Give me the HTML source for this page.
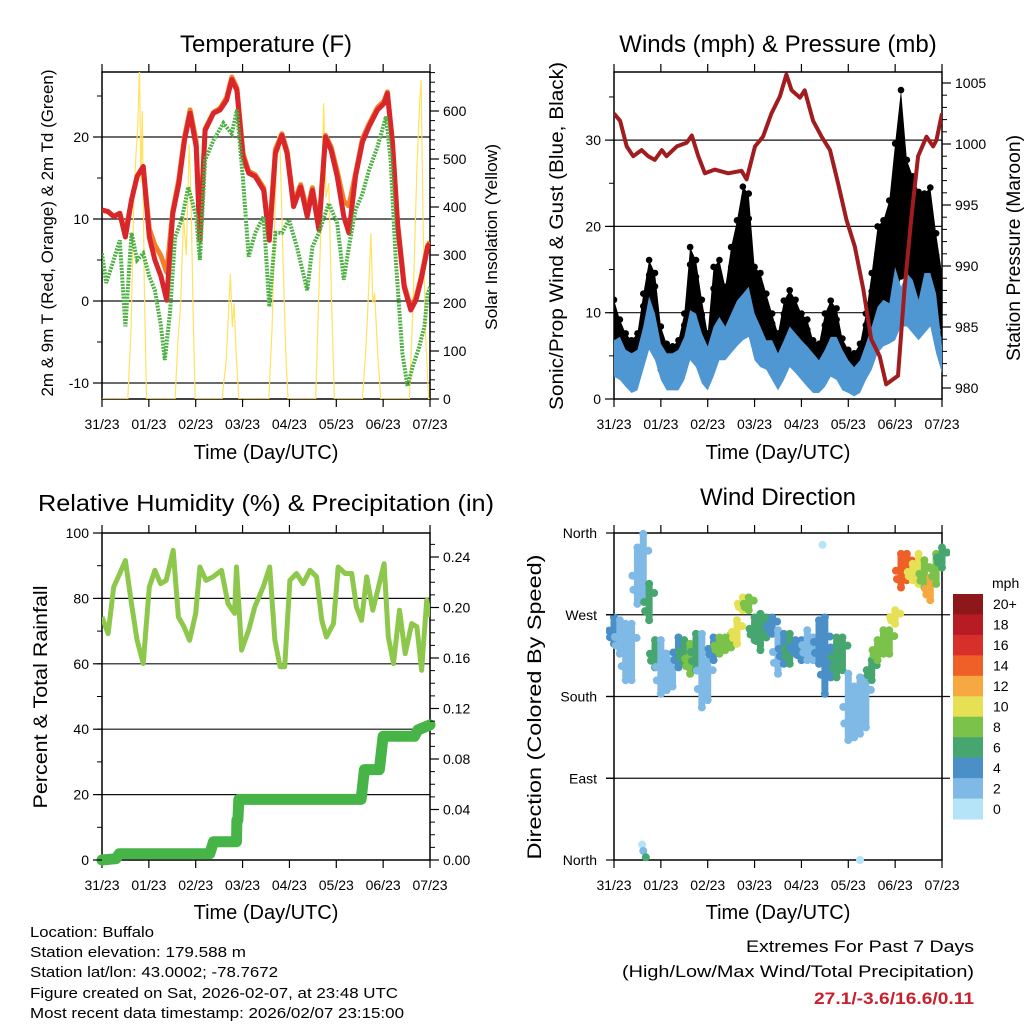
<!DOCTYPE html>
<html><head><meta charset="utf-8"><style>
html,body{margin:0;padding:0;background:#fff;}
svg{display:block;font-family:"Liberation Sans",sans-serif;}
</style></head><body>
<svg id="chart" width="1024" height="1024" viewBox="0 0 1024 1024" xmlns="http://www.w3.org/2000/svg">
<defs>
<clipPath id="c1"><rect x="102" y="72" width="328" height="327"/></clipPath>
<clipPath id="c2"><rect x="614" y="72" width="328" height="327"/></clipPath>
<clipPath id="c3"><rect x="102" y="533" width="328" height="327"/></clipPath>
<clipPath id="c4"><rect x="606" y="527" width="344" height="340"/></clipPath>
</defs>
<rect width="1024" height="1024" fill="#fff"/>
<text x="266" y="52" font-size="24" text-anchor="middle">Temperature (F)</text>
<text x="778" y="52" font-size="24" text-anchor="middle">Winds (mph) &amp; Pressure (mb)</text>
<text x="266" y="511" font-size="23" text-anchor="middle" textLength="456" lengthAdjust="spacingAndGlyphs">Relative Humidity (%) &amp; Precipitation (in)</text>
<text x="778" y="505" font-size="24" text-anchor="middle">Wind Direction</text>
<text x="53" y="233" font-size="17" text-anchor="middle" transform="rotate(-90 53 233)" textLength="327" lengthAdjust="spacingAndGlyphs">2m &amp; 9m T (Red, Orange) &amp; 2m Td (Green)</text>
<text x="497" y="237" font-size="17" text-anchor="middle" transform="rotate(-90 497 237)" textLength="186" lengthAdjust="spacingAndGlyphs">Solar Insolation (Yellow)</text>
<text x="563" y="236" font-size="19" text-anchor="middle" transform="rotate(-90 563 236)" textLength="348" lengthAdjust="spacingAndGlyphs">Sonic/Prop Wind &amp; Gust (Blue, Black)</text>
<text x="1020" y="248" font-size="19" text-anchor="middle" transform="rotate(-90 1020 248)" textLength="226" lengthAdjust="spacingAndGlyphs">Station Pressure (Maroon)</text>
<text x="47" y="697" font-size="19" text-anchor="middle" transform="rotate(-90 47 697)" textLength="223" lengthAdjust="spacingAndGlyphs">Percent &amp; Total Rainfall</text>
<text x="541" y="707" font-size="19" text-anchor="middle" transform="rotate(-90 541 707)" textLength="305" lengthAdjust="spacingAndGlyphs">Direction (Colored By Speed)</text>
<text x="266" y="459" font-size="20" text-anchor="middle">Time (Day/UTC)</text>
<text x="778" y="459" font-size="20" text-anchor="middle">Time (Day/UTC)</text>
<text x="266" y="919" font-size="20" text-anchor="middle">Time (Day/UTC)</text>
<text x="778" y="919" font-size="20" text-anchor="middle">Time (Day/UTC)</text>
<g font-size="15">
<text x="30" y="937" textLength="124" lengthAdjust="spacingAndGlyphs">Location: Buffalo</text>
<text x="30" y="957" textLength="216" lengthAdjust="spacingAndGlyphs">Station elevation: 179.588 m</text>
<text x="30" y="977" textLength="248" lengthAdjust="spacingAndGlyphs">Station lat/lon: 43.0002; -78.7672</text>
<text x="30" y="998" textLength="368" lengthAdjust="spacingAndGlyphs">Figure created on Sat, 2026-02-07, at 23:48 UTC</text>
<text x="30" y="1018" textLength="374" lengthAdjust="spacingAndGlyphs">Most recent data timestamp: 2026/02/07 23:15:00</text>
</g>
<g font-size="17" text-anchor="end">
<text x="974" y="952" textLength="228" lengthAdjust="spacingAndGlyphs">Extremes For Past 7 Days</text>
<text x="974" y="977" textLength="352" lengthAdjust="spacingAndGlyphs">(High/Low/Max Wind/Total Precipitation)</text>
<text x="974" y="1004" fill="#c8202c" font-weight="bold" textLength="160" lengthAdjust="spacingAndGlyphs">27.1/-3.6/16.6/0.11</text>
</g>
</svg>
<script>
// ---- Temperature panel data ----
const tempTimes=[0,0.13,0.25,0.38,0.5,0.63,0.75,0.88,1.01,1.13,1.26,1.38,1.51,1.64,1.76,1.88,2.01,2.09,2.2,2.38,2.52,2.66,2.77,2.88,3.01,3.13,3.27,3.45,3.57,3.7,3.84,3.95,4.09,4.24,4.38,4.49,4.63,4.77,4.89,5.02,5.16,5.27,5.41,5.56,5.7,5.88,6.02,6.09,6.2,6.31,6.45,6.59,6.7,6.81,6.95,7.0];
const tempRed=[11.1,10.9,10.3,10.7,7.8,12.3,15.2,16.4,7.8,5.0,3.0,0.1,10.7,14.3,19.6,22.9,18.8,7.4,20.8,22.9,23.3,24.5,27.0,25.7,17.6,15.6,15.2,13.5,7.4,18.0,20.2,18.0,11.5,13.9,10.3,13.5,8.7,20.0,18.4,15.2,10.3,8.3,15.2,19.4,21.3,23.3,24.1,25.3,19.2,9.1,1.7,-1.1,0.1,2.6,6.6,7.0];
const tempOrange=[11.1,10.9,10.3,10.7,8.3,12.3,15.2,16.4,8.8,6.8,5.5,3.5,11.0,14.8,20.0,23.3,19.5,8.0,21.0,23.0,23.5,24.8,27.3,26.0,18.0,15.8,15.4,13.8,8.0,18.5,20.4,18.3,12.0,14.2,11.0,13.8,9.2,20.2,18.8,15.8,12.2,11.6,15.5,19.8,21.6,23.6,24.4,25.5,19.4,9.4,2.0,-0.9,0.4,2.9,6.8,7.2];
const dewTimes=[0,0.09,0.25,0.38,0.5,0.63,0.75,0.88,1.01,1.13,1.26,1.34,1.45,1.56,1.7,1.84,2.01,2.09,2.2,2.38,2.59,2.77,2.88,3.01,3.13,3.27,3.45,3.57,3.7,3.84,3.99,4.16,4.38,4.49,4.63,4.84,5.02,5.16,5.27,5.41,5.56,5.7,5.88,6.06,6.16,6.27,6.41,6.52,6.63,6.77,6.88,6.95,7.0];
const dewPoint=[5.8,2.2,5.0,7.4,-3.1,8.3,5.0,5.8,3.0,1.3,-3.1,-7.2,-1.5,7.8,9.9,13.9,10.3,5.0,17.2,19.6,21.7,20.4,23.3,14.8,5.4,8.3,10.3,-0.7,8.3,8.3,9.9,6.6,1.3,6.6,8.3,11.9,9.5,2.6,6.6,11.1,13.1,16.0,18.8,22.5,17.2,5.0,-6.4,-10.4,-8.0,-5.6,-3.1,0.9,1.7];
const solarTimes=[0,0.55,0.62,0.68,0.72,0.76,0.80,0.83,0.86,0.90,0.95,1.56,1.62,1.68,1.74,1.80,1.86,1.90,1.95,1.99,2.56,2.65,2.70,2.74,2.78,2.82,2.86,2.92,3.56,3.63,3.70,3.75,3.80,3.86,3.92,3.97,4.56,4.62,4.68,4.73,4.78,4.84,4.90,4.96,5.56,5.64,5.70,5.74,5.78,5.82,5.88,5.95,6.56,6.64,6.72,6.78,6.81,6.85,6.90,6.97,7.0];
const solarValues=[0,0,150,420,500,560,690,450,600,250,0,0,120,200,380,300,530,420,150,0,0,80,180,260,150,200,100,0,0,150,420,548,520,300,100,0,0,200,380,616,420,450,200,0,0,120,250,345,200,220,100,0,0,200,480,620,665,380,150,0,0];
const tempTicks=[-10,0,10,20];
const solarTicks=[0,100,200,300,400,500,600];
// ---- Wind panel data ----
const windHours=[0,3,6,9,12,15,18,21,24,27,30,33,36,39,42,45,48,51,54,57,60,63,66,69,72,75,78,81,84,87,90,93,96,99,102,105,108,111,114,117,120,123,126,129,132,135,138,141,144,147,150,153,156,159,162,165,168];
const windHigh=[6.8,7.2,5.7,5.3,5.7,8.4,11.9,9.9,6.4,5.3,5.3,5.7,7.2,10.3,9.9,7.6,6.1,8.4,9.5,8.4,9.9,11.4,12.2,13.0,9.9,8.4,6.8,6.8,5.3,6.8,8.4,7.6,6.8,6.1,5.3,4.5,5.7,7.2,7.2,5.7,4.5,3.7,4.5,6.4,8.4,10.7,11.5,11.1,15.3,13.0,14.6,13.8,11.5,14.6,14.6,12.2,6.1];
const windLow=[2.6,2.2,1.4,0.7,1.0,3.4,5.7,4.5,2.2,1.0,1.0,1.0,2.2,4.5,3.7,1.8,1.0,2.6,4.5,4.5,5.3,6.1,6.8,7.2,4.5,3.7,3.4,2.2,1.0,2.2,3.7,3.0,2.2,1.4,0.7,0.7,1.4,2.6,2.2,1.0,0.7,0.3,0.7,2.2,3.4,5.3,6.1,6.4,6.8,8.4,8.4,7.6,6.8,7.6,8.4,5.3,3.0];
const gustHigh=[11.5,9.2,7.6,6.8,7.6,12.2,16.1,14.6,8.4,6.4,6.1,6.8,9.9,17.6,16.1,11.5,7.6,15.3,16.1,13.0,17.6,20.7,24.6,23.8,15.3,14.6,12.2,9.9,7.6,11.4,12.6,11.5,9.9,9.2,6.8,6.4,9.9,11.4,10.5,7.0,5.7,5.3,6.4,9.9,14.6,20.0,20.7,23.0,29.6,35.8,27.7,25.8,24.0,23.8,24.5,19.2,14.6];
const gustLow=[4.5,4.5,3.7,2.6,3.4,6.4,9.2,8.4,3.4,2.6,2.6,2.6,4.5,9.5,8.4,4.5,2.2,5.3,6.4,6.1,8.4,9.9,12.2,12.2,7.6,6.4,5.7,5.3,3.7,5.3,6.1,5.7,5.3,4.5,3.0,2.6,4.5,5.3,5.3,3.4,2.2,1.8,2.6,4.5,6.1,7.6,8.4,9.2,11.5,14.2,13.8,12.2,11.0,12.2,11.5,9.2,7.6];
const pressTimes=[0,0.13,0.27,0.41,0.59,0.73,0.87,1.02,1.12,1.34,1.55,1.66,1.8,1.94,2.15,2.44,2.72,2.83,3.01,3.18,3.36,3.54,3.68,3.79,3.97,4.07,4.25,4.43,4.61,4.78,4.96,5.14,5.32,5.49,5.67,5.81,5.95,6.06,6.2,6.35,6.49,6.67,6.81,6.88,7.0];
const pressValues=[1002.5,1001.9,999.8,999.0,999.5,999.0,998.7,999.5,999.0,999.8,1000.1,1000.7,999.0,997.6,997.9,997.6,997.8,997.1,999.8,1000.6,1002.5,1003.9,1005.7,1004.4,1003.8,1004.4,1001.9,1000.6,999.5,996.8,993.8,991.6,988.1,984.0,982.6,980.3,980.7,981.0,988.1,994.1,999.0,1000.6,999.8,1000.3,1002.5];
const windTicks=[0,10,20,30];
const pressTicks=[980,985,990,995,1000,1005];
// ---- Humidity panel data ----
const rhTimes=[0,0.13,0.25,0.38,0.5,0.63,0.75,0.88,1.01,1.13,1.25,1.37,1.52,1.63,1.75,1.87,2.0,2.09,2.22,2.37,2.55,2.69,2.83,2.87,2.98,3.13,3.26,3.44,3.58,3.69,3.8,3.9,4.01,4.15,4.29,4.44,4.58,4.69,4.79,4.94,5.04,5.19,5.33,5.43,5.54,5.65,5.78,5.9,6.02,6.11,6.22,6.35,6.47,6.61,6.72,6.82,6.93,7.0];
const rhValues=[74.3,69.2,83.5,87.6,91.6,78.4,67.2,60.1,83.5,88.6,84.5,85.5,94.7,74.3,71.3,67.2,75.4,89.6,85.5,86.6,88.6,78.4,75.4,89.6,64.2,70.3,77.4,83.5,89.6,67.2,59.1,59.1,85.5,87.6,84.5,88.6,86.6,73.3,68.2,72.3,89.6,87.6,87.6,77.4,73.3,86.6,76.4,83.5,90.6,68.2,60.1,76.4,63.1,72.3,71.3,58.0,79.4,74.3];
const rainTimes=[0,0.3,0.37,2.3,2.38,2.87,2.88,2.9,2.92,5.53,5.6,5.92,6.0,6.67,6.74,7.0];
const rainValues=[0,0.001,0.005,0.005,0.0145,0.0145,0.0316,0.0316,0.048,0.048,0.0716,0.0716,0.098,0.098,0.103,0.107];
const rhTicks=[0,20,40,60,80,100];
const rainTicks=[0,0.04,0.08,0.12,0.16,0.20,0.24];
const rainTickLabels=["0.00","0.04","0.08","0.12","0.16","0.20","0.24"];
// ---- Wind direction panel data ----
const dirHours=windHours;
const dirHigh=[267,264,260,260,344,359,304,242,242,227,220,245,242,238,249,249,220,245,245,245,249,264,289,289,267,271,267,267,253,249,249,242,242,253,245,264,267,234,245,245,205,191,201,201,220,242,253,253,275,337,337,326,337,330,311,337,344];
const dirLow=[238,227,198,198,282,285,264,212,183,187,191,212,216,205,209,168,176,220,227,231,234,238,275,275,242,231,245,249,205,216,216,227,220,220,220,216,183,201,201,209,132,135,139,146,198,220,227,227,260,300,308,308,304,300,286,304,322];
const dirSpeed=[4,3,2,3,2,3,7,7,2,2,3,5,7,8,6,3,2,5,8,8,9,10,11,9,7,7,6,4,3,5,6,4,4,3,2,4,4,5,6,6,2,2,2,3,6,8,9,9,10,14,15,11,10,9,13,8,6];
const strayHours=[14.4,15,16.3,106.8,126];
const strayDir=[17,10,3,347,0];
const straySpeed=[1,2,6,1,1];
const dirTicks=[0,90,180,270,360];
const dirTickLabels=["North","East","South","West","North"];
const speedBinLabels=["20+","18","16","14","12","10","8","6","4","2","0"];
const dayLabels=["31/23","01/23","02/23","03/23","04/23","05/23","06/23","07/23"];

const NS="http://www.w3.org/2000/svg";
const svg=document.getElementById('chart');
function mk(tag,parent){const e=document.createElementNS(NS,tag);parent.appendChild(e);return e;}
function at(e,o){for(const k in o)e.setAttribute(k,o[k]);return e;}
const binColors=["#8e1719","#b71c24","#d7302a","#ee6028","#f6a843","#e6e055","#7bc24b","#47a66f","#4a8fc7","#7fb9e5","#b5e3f8"];
function speedColor(s){let b=Math.floor(s/2);if(b>10)b=10;return binColors[10-b];}

const L0=102,L1=430,R0=614,R1=942;
const xL=d=>L0+d*(L1-L0)/7, xR=d=>R0+d*(R1-R0)/7;
const yT=v=>301-v*8.2, ySol=v=>399-v*0.48;
const yW=v=>399-v*8.63, yP=v=>388-(v-980)*12.2;
const yRH=v=>860-v*3.27, yRain=v=>860-v/0.04*50.5;
const yDir=v=>860-v*(327/360);

function pathD(xs,ys,fx,fy){return xs.map((t,i)=>(i?'L':'M')+fx(t).toFixed(1)+' '+fy(ys[i]).toFixed(1)).join(' ');}

function frame(name,x0,x1,y0,y1,gridVals,fy,gx0,gx1){
  const g=mk('g',svg);
  
  
  gridVals.forEach(v=>{
    const l=at(mk('line',g),{x1:gx0,x2:gx1,y1:fy(v),y2:fy(v),stroke:'#111','stroke-width':1.2});
    
    
  });
  for(let d=0;d<=7;d++){
    const x=x0+d*(x1-x0)/7;
    const t1=at(mk('line',g),{x1:x,x2:x,y1:y0,y2:y0-8,stroke:'#000','stroke-width':1.2});
    
    
    const t2=at(mk('line',g),{x1:x,x2:x,y1:y1,y2:y1+8,stroke:'#000','stroke-width':1.2});
    
    
    const tx=at(mk('text',g),{x:x,y:y1+30,'font-size':14,'text-anchor':'middle'});
    tx.textContent=dayLabels[d];
    
    
  }
  const r=at(mk('rect',g),{x:x0,y:y0,width:x1-x0,height:y1-y0,fill:'none',stroke:'#000','stroke-width':1.5});
  
  
}
function yAxis(name,side,x,y0,y1,ticks,labels,fy,minorStep,vmin,vmax){
  const g=mk('g',svg);
  
  
  const dir=side==='left'?-1:1;
  if(minorStep){
    for(let v=vmin;v<=vmax+1e-9;v+=minorStep){
      const y=fy(v);if(y<y0-0.5||y>y1+0.5)continue;
      const m=at(mk('line',g),{x1:x,x2:x+dir*5,y1:y,y2:y,stroke:'#000','stroke-width':1});
      
      
    }
  }
  ticks.forEach((v,i)=>{
    const y=fy(v);
    const t=at(mk('line',g),{x1:x,x2:x+dir*9,y1:y,y2:y,stroke:'#000','stroke-width':1.2});
    
    
    const tx=at(mk('text',g),{x:x+dir*13,y:y+5,'font-size':14,'text-anchor':side==='left'?'end':'start'});
    tx.textContent=labels[i];
    
    
  });
}

// ===== Panel 1 =====
frame('temp',L0,L1,72,399,tempTicks,yT,L0,L1);
const g1=mk('g',svg);


g1.setAttribute('clip-path','url(#c1)');
const solar=at(mk('path',g1),{d:pathD(solarTimes,solarValues,xL,ySol),fill:'none',stroke:'#ffe260','stroke-width':1.2});


const orange=at(mk('path',g1),{d:pathD(tempTimes,tempOrange,xL,yT),fill:'none',stroke:'#f47f2a','stroke-width':5,'stroke-linejoin':'round'});


const red=at(mk('path',g1),{d:pathD(tempTimes,tempRed,xL,yT),fill:'none',stroke:'#d8262a','stroke-width':5,'stroke-linejoin':'round'});


const dew=at(mk('path',g1),{d:pathD(dewTimes,dewPoint,xL,yT),fill:'none',stroke:'#4cb043','stroke-width':4,'stroke-dasharray':'2 1.2'});


yAxis('temp-y-axis','left',L0,72,399,tempTicks,tempTicks.map(String),yT,5,-10,25);
yAxis('solar-y-axis','right',L1,72,399,solarTicks,solarTicks.map(String),ySol,20,0,680);

// ===== Panel 2 =====
frame('wind',R0,R1,72,399,windTicks.slice(1),yW,R0,R1);
const g2=mk('g',svg);


g2.setAttribute('clip-path','url(#c2)');
const xh=h=>xR(h/24);
function bandD(hs,hi,lo,fy){
  const up=hs.map((h,i)=>xh(h).toFixed(1)+','+fy(hi[i]).toFixed(1));
  const dn=hs.map((h,i)=>xh(h).toFixed(1)+','+fy(lo[i]).toFixed(1)).reverse();
  return up.concat(dn).join(' ');
}
const gb=at(mk('polygon',g2),{points:bandD(windHours,gustHigh,gustLow,yW),fill:'#000'});


windHours.forEach((h,i)=>{
  [gustHigh[i],gustLow[i],(gustHigh[i]*3+gustLow[i])/4].forEach(v=>{
    const c=at(mk('circle',g2),{cx:xh(h),cy:yW(v),r:3.3,fill:'#000'});
    
    
  });
});
const wb=at(mk('polygon',g2),{points:bandD(windHours,windHigh,windLow,yW),fill:'#4f97d3'});


const pl=at(mk('path',g2),{d:pathD(pressTimes,pressValues,xR,yP),fill:'none',stroke:'#a01c1f','stroke-width':4,'stroke-linejoin':'round'});


yAxis('wind-y-axis','left',R0,72,399,windTicks,windTicks.map(String),yW,5,0,35);
yAxis('pressure-y-axis','right',R1,72,399,pressTicks,pressTicks.map(String),yP,1,980,1006);

// ===== Panel 3 =====
frame('rh',L0,L1,533,860,rhTicks.slice(1,5),yRH,L0,L1);
const g3=mk('g',svg);


g3.setAttribute('clip-path','url(#c3)');
const rh=at(mk('path',g3),{d:pathD(rhTimes,rhValues,xL,yRH),fill:'none',stroke:'#8dc84c','stroke-width':5,'stroke-linejoin':'round'});


const g3b=mk('g',svg);


const rn=at(mk('path',g3b),{d:pathD(rainTimes,rainValues,xL,yRain),fill:'none',stroke:'#46b446','stroke-width':11,'stroke-linecap':'round','stroke-linejoin':'round'});


yAxis('rh-y-axis','left',L0,533,860,rhTicks,rhTicks.map(String),yRH,10,0,100);
yAxis('rain-y-axis','right',L1,533,860,rainTicks,rainTickLabels,yRain,0.01,0,0.25);

// ===== Panel 4 =====
frame('dir',R0,R1,533,860,[90,180,270],yDir,606,950);
const g4=mk('g',svg);


g4.setAttribute('clip-path','url(#c4)');
dirHours.forEach((h,i)=>{
  const x=xh(h),col=speedColor(dirSpeed[i]);
  const yt=yDir(dirHigh[i]),yb=yDir(dirLow[i]);
  const r=at(mk('rect',g4),{x:x-3.5,y:yt,width:7,height:yb-yt,rx:3.5,fill:col});
  
  
  const vals=[dirHigh[i],dirLow[i],(dirHigh[i]+dirLow[i])/2,(dirHigh[i]*3+dirLow[i])/4,(dirHigh[i]+dirLow[i]*3)/4];
  const offs=[0,0,-5,5,-4];
  vals.forEach((v,k)=>{
    const c=at(mk('circle',g4),{cx:x+offs[k],cy:yDir(v),r:4,fill:col});
    
    
  });
});
strayHours.forEach((h,i)=>{
  const c=at(mk('circle',g4),{cx:xh(h),cy:yDir(strayDir[i]),r:4,fill:speedColor(straySpeed[i])});
  
  
});
(function(){
  const g=mk('g',svg);
  
  
  dirTicks.forEach((v,i)=>{
    const t=at(mk('line',g),{x1:606,x2:R0,y1:yDir(v),y2:yDir(v),stroke:'#000','stroke-width':1.2});
    
    
    const tx=at(mk('text',g),{x:597,y:yDir(v)+5,'font-size':14,'text-anchor':'end'});
    tx.textContent=dirTickLabels[i];
    
    
  });
})();
(function(){
  const g=mk('g',svg);
  
  
  const t=at(mk('text',g),{x:992,y:588,'font-size':14});
  t.textContent='mph';
  
  
  const bh=(819-594)/11;
  speedBinLabels.forEach((lab,i)=>{
    const r=at(mk('rect',g),{x:953,y:594+i*bh,width:30,height:bh+0.5,fill:binColors[i]});
    
    
    const tx=at(mk('text',g),{x:993,y:594+i*bh+bh/2+5,'font-size':14});
    tx.textContent=lab;
    
    
  });
})();
</script>
</body></html>
